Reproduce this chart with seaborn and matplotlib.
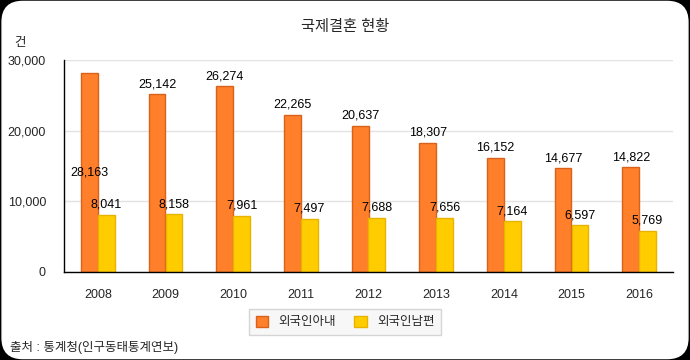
import numpy as np
import pandas as pd
import matplotlib
matplotlib.use("Agg")
import matplotlib.pyplot as plt
from matplotlib.patches import FancyBboxPatch
import seaborn as sns

years = ["2008", "2009", "2010", "2011", "2012", "2013", "2014", "2015", "2016"]
wife = [28163, 25142, 26274, 22265, 20637, 18307, 16152, 14677, 14822]
husband = [8041, 8158, 7961, 7497, 7688, 7656, 7164, 6597, 5769]
series = ["외국인아내", "외국인남편"]
colors = {"외국인아내": "#FF7F2A", "외국인남편": "#FFCC00"}
edges = {"외국인아내": "#D9621B", "외국인남편": "#E6B400"}
y_ticks = [0, 10000, 20000, 30000]

df = pd.DataFrame({
    "year": years * 2,
    "value": wife + husband,
    "series": [series[0]] * len(years) + [series[1]] * len(years),
})

sns.set_theme(style="white")
plt.rcParams["font.family"] = ["Liberation Sans", "Noto Sans CJK KR"]

fig = plt.figure(figsize=(6.9, 3.6), dpi=100, facecolor="black")
# rounded white card behind everything
card = FancyBboxPatch((0.003, 0.004), 0.994, 0.992, boxstyle="round,pad=0,rounding_size=0.03",
                      transform=fig.transFigure, facecolor="white", edgecolor="white",
                      linewidth=1, mutation_aspect=690 / 360, zorder=-10)
fig.patches.append(card)

ax = fig.add_axes([64 / 690, 88 / 360, 609 / 690, 212 / 360])
ax.set_facecolor("none")
sns.barplot(data=df, x="year", y="value", hue="series", palette=colors,
            width=0.5, ax=ax, legend=False, saturation=1)

for cont, name in zip(ax.containers, series):
    for bar in cont:
        bar.set_edgecolor(edges[name])
        bar.set_linewidth(1)
    for bar in cont:
        h = bar.get_height()
        cx = bar.get_x() + bar.get_width() / 2
        # labels that would not fit above the bar go to its middle
        if h + 2500 > y_ticks[-1]:
            ax.text(cx, h / 2, f"{int(h):,}", ha="center", va="center", fontsize=9, color="black")
        else:
            ax.text(cx, h + 600, f"{int(h):,}", ha="center", va="bottom", fontsize=9, color="black")

ax.set_ylim(0, 30000)
ax.set_yticks(y_ticks)
ax.set_yticklabels([f"{v:,}" for v in y_ticks], fontsize=9)
ax.tick_params(axis="x", labelsize=9, pad=12, length=0)
ax.tick_params(axis="y", pad=13, length=0)
ax.set_xlabel("")
ax.set_ylabel("")
ax.grid(axis="y", color="#e3e3e3", linewidth=1)
ax.set_axisbelow(True)
for s in ["top", "right"]:
    ax.spines[s].set_visible(False)
ax.spines["left"].set_color("black")
ax.spines["bottom"].set_color("black")
ax.spines["left"].set_linewidth(1)
ax.spines["bottom"].set_linewidth(1)

fig.text(0.5, 1 - 27 / 360, "국제결혼 현황", ha="center", va="center", fontsize=11)
fig.text(20 / 690, 1 - 43 / 360, "건", ha="center", va="center", fontsize=9)
fig.text(10 / 690, 1 - 348 / 360, "출처 : 통계청(인구동태통계연보)", ha="left", va="center", fontsize=9)

handles = [plt.Rectangle((0, 0), 1, 1, facecolor=colors[s], edgecolor=edges[s]) for s in series]
leg = fig.legend(handles, series, loc="center", bbox_to_anchor=(0.5, 1 - 322 / 360), ncol=2,
                 frameon=True, fontsize=9, handlelength=1.0, handleheight=1.0,
                 columnspacing=1.5, handletextpad=0.8, fancybox=False, borderpad=0.5)
leg.get_frame().set_facecolor("#f6f6f6")
leg.get_frame().set_edgecolor("#cccccc")

fig.savefig("out.png", dpi=100, facecolor=fig.get_facecolor())
